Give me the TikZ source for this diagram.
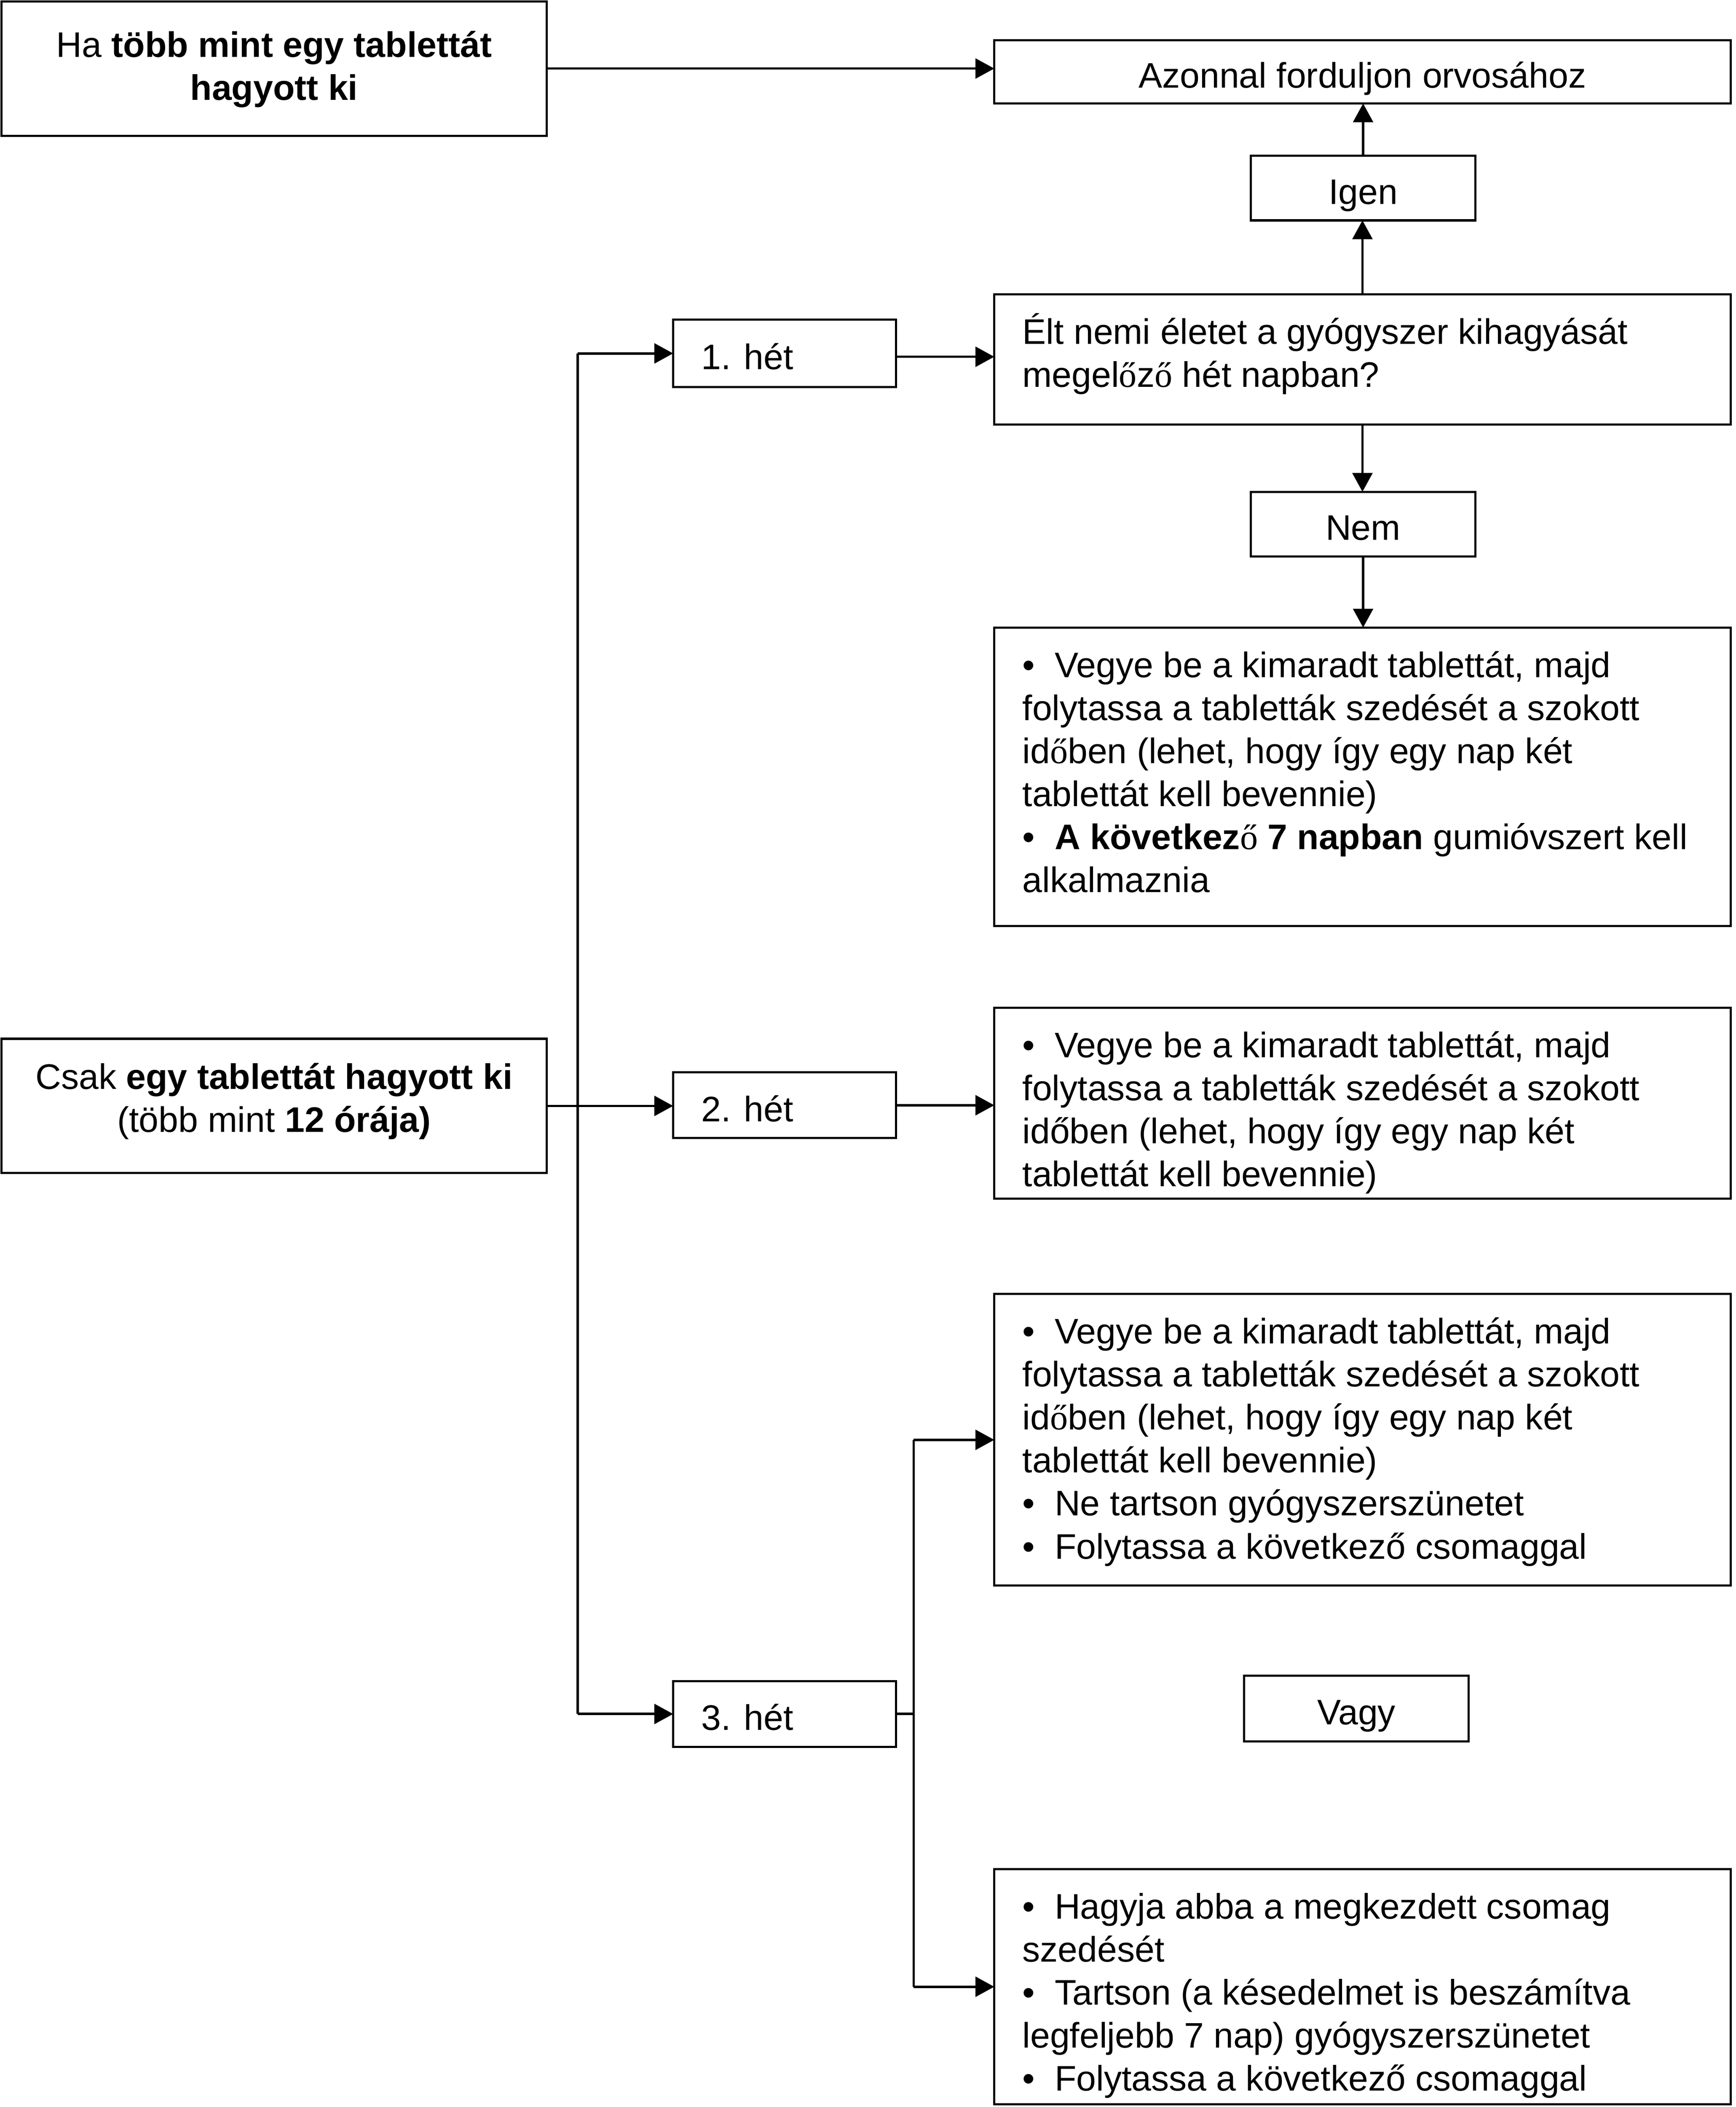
\documentclass[tikz,border=0pt]{standalone}
\usepackage{fontspec}
\setmainfont{Liberation Sans}
\newfontfamily\serifont{Liberation Serif}
\usetikzlibrary{arrows.meta,calc}
\newcommand\oser{{\serifont\mdseries ő}}
\newcommand\bul{\makebox[12pt][l]{•}}
\newcommand\lbox[2]{\parbox[c][#1][t]{253pt}{\raggedright\rule{0pt}{13pt}#2}}
\newcommand\cbox[2]{\parbox[c][#1][t]{203pt}{\centering\rule{0pt}{13pt}#2}}
\newcommand\hetbox[1]{\makebox[62pt][l]{#1}}
\tikzset{
  every node/.style={font=\fontsize{13.2pt}{16pt}\selectfont},
  box/.style={draw, line width=0.8pt, rectangle, inner sep=0pt, outer sep=0pt},
  one/.style={text height=12pt, text depth=0pt},
  wide/.style={box, minimum width=274pt},
  small/.style={box, one, minimum width=83.5pt},
  conn/.style={line width=0.9pt, -{Triangle[length=7pt,width=7.4pt]}},
  plain/.style={line width=0.9pt}
}
\begin{document}
\begin{tikzpicture}[x=0.5pt,y=-0.5pt]
\useasboundingbox (0,0) rectangle (1292,1568);

% top-left box
\node[box, minimum width=203pt, minimum height=50pt] (A) at (204,51)
  {\cbox{34.5pt}{Ha \textbf{több mint egy tablettát}\\\textbf{hagyott ki}}};

\node[wide, one, minimum height=23.5pt] (B) at (1014,53.5) {Azonnal forduljon orvosához};
\node[small, minimum height=24pt] (Igen) at (1014.5,140) {Igen};

\node[wide, minimum height=48.5pt] (Q) at (1014,267.5)
  {\lbox{37.5pt}{\mbox{Élt nemi életet a gyógyszer kihagyását}\\
   \mbox{megel\oser{}z\oser{} hét napban?}}};

\node[small, minimum height=24pt] (Nem) at (1014.5,390) {Nem};

\node[wide, minimum height=111pt] (C) at (1014,578)
  {\lbox{100pt}{\mbox{\bul Vegye be a kimaradt tablettát, majd}\\
   \mbox{folytassa a tabletták szedését a szokott}\\
   \mbox{id\oser{}ben (lehet, hogy így egy nap két}\\
   \mbox{tablettát kell bevennie)}\\
   \mbox{\bul\textbf{A következ\oser{} 7 napban} gumióvszert kell}\\
   \mbox{alkalmaznia}}};

\node[box, one, minimum width=83pt, minimum height=25pt] (het1) at (584,263) {\hetbox{1. hét}};

\node[box, minimum width=203pt, minimum height=50pt] (Csak) at (204,823)
  {\cbox{38.5pt}{Csak \textbf{egy tablettát hagyott ki}\\(több mint \textbf{12 órája)}}};

\node[box, one, minimum width=83pt, minimum height=24.5pt] (het2) at (584,822.5) {\hetbox{2. hét}};

\node[wide, minimum height=71pt] (D) at (1014,821)
  {\lbox{60pt}{\mbox{\bul Vegye be a kimaradt tablettát, majd}\\
   \mbox{folytassa a tabletták szedését a szokott}\\
   \mbox{időben (lehet, hogy így egy nap két}\\
   \mbox{tablettát kell bevennie)}}};

\node[box, one, minimum width=83pt, minimum height=24.5pt] (het3) at (584,1275.5) {\hetbox{3. hét}};

\node[wide, minimum height=108.5pt] (E) at (1014,1071.5)
  {\lbox{97.5pt}{\mbox{\bul Vegye be a kimaradt tablettát, majd}\\
   \mbox{folytassa a tabletták szedését a szokott}\\
   \mbox{id\oser{}ben (lehet, hogy így egy nap két}\\
   \mbox{tablettát kell bevennie)}\\
   \mbox{\bul Ne tartson gyógyszerszünetet}\\
   \mbox{\bul Folytassa a következő csomaggal}}};

\node[small, minimum height=24.5pt] (Vagy) at (1009.5,1271.5) {Vagy};

\node[wide, minimum height=87.5pt] (F) at (1014,1478.5)
  {\lbox{76.5pt}{\mbox{\bul Hagyja abba a megkezdett csomag}\\
   \mbox{szedését}\\
   \mbox{\bul Tartson (a késedelmet is beszámítva}\\
   \mbox{legfeljebb 7 nap) gyógyszerszünetet}\\
   \mbox{\bul Folytassa a következő csomaggal}}};

% bus coordinates
\coordinate (bus1) at (430,263);
\coordinate (bus3) at (430,1275.5);
\coordinate (bus4) at (680,1071.5);
\coordinate (bus5) at (680,1478.5);
\coordinate (q1) at ([yshift=-1.25pt]het1.east);

% connectors
\draw[conn] (A.east) -- (A.east -| B.west);
\draw[conn] (Q.north) -- (Q.north |- Igen.south);
\draw[conn] (Igen.north) -- (Igen.north |- B.south);
\draw[conn] (Q.south) -- (Q.south |- Nem.north);
\draw[conn] (Nem.south) -- (Nem.south |- C.north);
\draw[conn] (q1) -- (q1 -| Q.west);

\draw[plain] (bus1) -- (bus3);
\draw[conn] (bus1) -- (het1.west);
\draw[conn] (Csak.east) -- (Csak.east -| het2.west);
\draw[conn] (bus3) -- (het3.west);
\draw[conn] (het2.east) -- (het2.east -| D.west);

\draw[plain] (het3.east) -- (het3.east -| bus4);
\draw[plain] (bus4) -- (bus5);
\draw[conn] (bus4) -- (E.west);
\draw[conn] (bus5) -- (F.west);
\end{tikzpicture}
\end{document}
